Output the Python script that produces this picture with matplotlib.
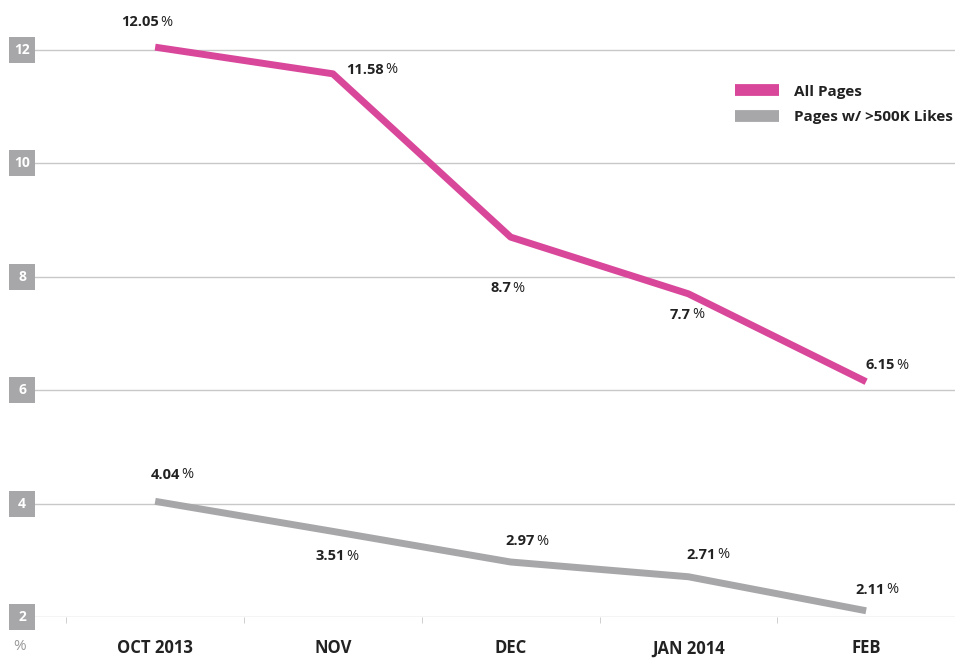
import matplotlib
matplotlib.use("Agg")
import matplotlib.pyplot as plt
from matplotlib.patches import Rectangle
from matplotlib.transforms import blended_transform_factory

plt.rcParams['font.family'] = ['Open Sans', 'DejaVu Sans']

# data
months = ["OCT 2013", "NOV", "DEC", "JAN 2014", "FEB"]
all_pages = [12.05, 11.58, 8.7, 7.7, 6.15]
big_pages = [4.04, 3.51, 2.97, 2.71, 2.11]
y_ticks = [2, 4, 6, 8, 10, 12]

# label offsets (points) for each value label: (dx, dy)
all_off = [(3, 18), (37, 3), (1, -37), (2, -15), (21, 12)]
big_off = [(18.5, 19), (9, -18), (18, 15), (20, 16), (14, 15)]

PINK = "#D9479A"
GREY = "#A7A7AA"
GRID = "#C8C8C8"

W, H = 955, 658
fig = plt.figure(figsize=(W / 100, H / 100), dpi=100)
ax = fig.add_axes([35 / W, 41 / H, 920 / W, 617 / H])
x = list(range(len(months)))

ax.set_xlim(-0.676, 4.5)
ax.set_ylim(2, 2 + 617 / 56.7)

for s in ax.spines.values():
    s.set_visible(False)
for v in y_ticks:
    ax.axhline(v, color=GRID, lw=1, zorder=1)

ax.plot(x, all_pages, color=PINK, lw=5, solid_capstyle='butt', zorder=3, label="All Pages")
ax.plot(x, big_pages, color=GREY, lw=5, solid_capstyle='butt', zorder=3, label="Pages w/ >500K Likes")

def pct_label(xi, yi, off):
    dx, dy = off
    ax.annotate(f"{yi:g}", (xi, yi), xytext=(dx - 0.5, dy), textcoords="offset points",
                ha="right", va="center", fontsize=10.5, fontweight="bold", color="#222222")
    ax.annotate("%", (xi, yi), xytext=(dx + 0.5, dy), textcoords="offset points",
                ha="left", va="center", fontsize=10.5, color="#222222")

for xi, yi, off in zip(x, all_pages, all_off):
    pct_label(xi, yi, off)
for xi, yi, off in zip(x, big_pages, big_off):
    pct_label(xi, yi, off)

# x axis
ax.set_xticks(x)
ax.set_xticklabels(months, fontsize=12, fontweight="bold", color="#222222")
ax.tick_params(axis="x", which="major", length=0, pad=16)
ax.set_xticks([i - 0.5 for i in range(len(months) + 1)], minor=True)
ax.tick_params(axis="x", which="minor", length=4, color=GRID, direction="out")

# y axis: grey boxes with white numbers
ax.set_yticks([])
trans = blended_transform_factory(fig.transFigure, ax.transData)
for v in y_ticks:
    ax.add_patch(Rectangle((9 / W, v - 13 / 56.7), 26 / W, 26 / 56.7, transform=trans,
                           facecolor=GREY, edgecolor="none", clip_on=False, zorder=4))
    ax.text(22 / W, v, str(v), transform=trans, ha="center", va="center",
            fontsize=10, fontweight="bold", color="white", zorder=5)
fig.text(20 / W, 11 / H, "%", ha="center", va="center", fontsize=11, color="#999999")

leg = ax.legend(loc="upper right", bbox_to_anchor=(1.0 + 12 / 920, 0.885), frameon=False,
                handlelength=2.9, handleheight=0.8, handletextpad=1.0,
                prop={"size": 11, "weight": "bold"}, labelspacing=0.75)
for line in leg.get_lines():
    line.set_linewidth(8.5)
for t in leg.get_texts():
    t.set_color("#222222")

fig.savefig("out.png", dpi=100)
